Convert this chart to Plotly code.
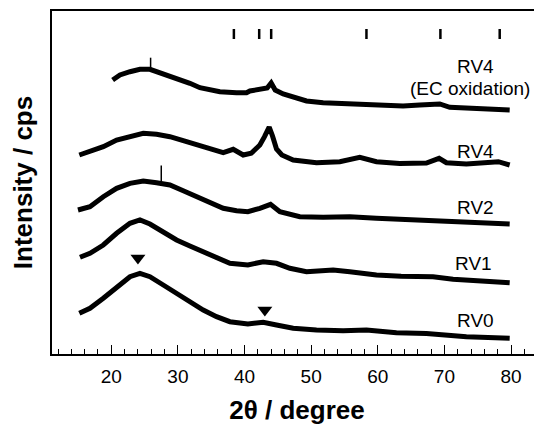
import plotly.graph_objects as go

# XRD patterns, intensities in arbitrary units (curves stacked with offsets)
rv4_ec_2theta = [20.2, 21.3, 22.8, 24.3, 25.8, 27.3, 28.8, 30.3, 31.8, 33.3, 34.8, 36.3,
                 38.8, 40.3, 40.8, 42.3, 43.4, 44.0, 44.6, 45.8, 47.3, 49.3, 51.8, 54.8, 57.8,
                 60.8, 63.8, 66.3, 69.3, 70.8, 73.3, 76.3, 79.8]
rv4_ec_int = [274, 279, 282.3, 284.7, 284.7, 281.3, 277.3, 274, 270.7, 266.3, 264, 262.3,
              261.3, 261.3, 263, 264.7, 266, 271, 264, 260, 256.7, 253, 251.3, 250.7, 250,
              249, 248, 249, 250, 246.7, 245.7, 245.7, 244]

rv4_2theta = [15.2, 16.8, 18.8, 20.8, 22.8, 24.8, 26.8, 28.8, 30.8, 32.8, 34.8, 36.8, 38.3, 39.8,
              41.0, 42.3, 43.0, 43.7, 44.2, 44.8, 45.6, 47.3, 50.8, 54.3, 57.3, 59.8, 63.3, 67.3,
              69.2, 70.3, 73.3, 76.3, 78.1, 79.8]
rv4_int = [199, 202.3, 207.3, 214, 218, 220.7, 219.7, 217.3, 213.3, 209, 204.7, 201.3, 204.7, 199,
           200.7, 209, 217.3, 227, 218, 205, 199, 194, 191.3, 192.3, 196.7, 192.3, 190.5, 191,
           195.7, 191.3, 190, 190.7, 192.3, 189]

rv2_2theta = [15.0, 16.8, 18.8, 20.8, 22.8, 24.8, 26.8, 28.8, 30.8, 32.8, 34.8,
              36.8, 38.8, 40.5, 42.3, 43.9, 45.3, 48.3, 51.8, 55.8, 59.8, 63.8, 68.3, 73.3, 79.8]
rv2_int = [144, 147.3, 157.3, 165.7, 170.7, 173, 171.3, 169, 163.3, 157.3, 150.7,
           145.7, 143.3, 142.3, 145.7, 149.7, 142.3, 137.3, 136.7, 137.3, 135.7, 134.7, 133.7, 131.7, 130]

rv1_2theta = [15.3, 16.8, 18.8, 20.8, 22.8, 24.3, 25.8, 27.8, 29.8, 31.8, 33.8, 35.8, 37.8, 40.5,
              42.8, 44.8, 46.8, 49.3, 53.3, 55.8, 59.8, 63.5, 68.3, 71.3, 75.8, 79.8]
rv1_int = [96.7, 100.7, 109, 120.7, 130.7, 134, 130, 122.3, 114, 108, 102.3, 96.7, 90.7, 89,
           92.3, 90.7, 85.7, 82.3, 84, 82.3, 79, 77.7, 77.3, 74.7, 73.3, 71.3]

rv0_2theta = [15.2, 16.8, 18.8, 20.8, 22.8, 24.3, 25.8, 27.8, 29.8, 31.8, 33.8, 35.8, 37.8, 40.5,
              42.8, 44.8, 47.3, 50.8, 54.8, 58.3, 62.8, 67.3, 73.3, 79.8]
rv0_int = [40.7, 45.7, 55.7, 67.3, 77.3, 80.7, 77.3, 69, 60.7, 52.3, 44, 37.3, 32.3, 30,
           31.7, 29, 25.7, 24, 23.3, 24, 21.3, 20.5, 17.3, 15.7]

# single-point spikes (RV4 EC at 25.9, RV2 at 27.5)
spike_2theta = [25.9, 27.5]
spike_base = [284.7, 171]
spike_top = [296.3, 188.5]

# reference reflection positions (bars at top)
ref_2theta = [38.4, 42.2, 44.0, 58.3, 69.4, 78.3]
ref_bar_low = 315
ref_bar_high = 325

# triangle markers on RV0
tri_2theta = [24.0, 43.05]
tri_int = [96, 44]

labels = ["RV4", "(EC oxidation)", "RV4", "RV2", "RV1", "RV0"]
label_x = [74.6, 73.8, 74.6, 74.6, 74.4, 74.6]
label_y = [288, 266, 203, 147, 90.5, 34]

fig = go.Figure()

for xs, ys in [(rv4_ec_2theta, rv4_ec_int), (rv4_2theta, rv4_int), (rv2_2theta, rv2_int),
               (rv1_2theta, rv1_int), (rv0_2theta, rv0_int)]:
    fig.add_trace(go.Scatter(x=xs, y=ys, mode="lines", line=dict(color="black", width=5),
                             showlegend=False))

# spikes and reflection bars as short vertical segments
sx, sy = [], []
for x, lo, hi in zip(spike_2theta, spike_base, spike_top):
    sx += [x, x, None]
    sy += [lo, hi, None]
fig.add_trace(go.Scatter(x=sx, y=sy, mode="lines", line=dict(color="black", width=1.5),
                         showlegend=False))

bx, by = [], []
for r in ref_2theta:
    bx += [r, r, None]
    by += [ref_bar_low, ref_bar_high, None]
fig.add_trace(go.Scatter(x=bx, y=by, mode="lines", line=dict(color="black", width=2.5),
                         showlegend=False))

fig.add_trace(go.Scatter(x=tri_2theta, y=tri_int, mode="markers",
                         marker=dict(symbol="triangle-down", size=13, color="black"),
                         showlegend=False))

for t, x, y in zip(labels, label_x, label_y):
    fig.add_annotation(x=x, y=y, text=t, showarrow=False,
                       font=dict(family="Liberation Sans, Arial", size=19, color="black"))

# page body adds an 8 px margin, so the figure is sized to fit the window
fig.update_layout(
    width=534, height=417,
    margin=dict(l=44, r=0, t=3, b=71),
    plot_bgcolor="white", paper_bgcolor="white",
    font=dict(family="Liberation Sans, Arial", color="black"),
)
fig.update_xaxes(
    range=[11.1, 84.65], dtick=10, tick0=0, automargin=False,
    ticks="inside", ticklen=9, tickwidth=1.3, tickcolor="black",
    minor=dict(dtick=2, ticks="inside", ticklen=5, tickwidth=1.2, tickcolor="black"),
    showline=True, linecolor="black", linewidth=1.5, mirror=True,
    showgrid=False, zeroline=False,
    tickfont=dict(size=19), ticklabelstandoff=4,
    title=dict(text="<b>2θ / degree</b>", font=dict(size=26), standoff=20),
)
fig.update_yaxes(
    range=[0, 343], showticklabels=False, ticks="", automargin=False,
    showline=True, linecolor="black", linewidth=1.5, mirror=False,
    showgrid=False, zeroline=False,
    title=dict(text="<b>Intensity / cps</b>", font=dict(size=26), standoff=10),
)

fig.write_html("out.html")
